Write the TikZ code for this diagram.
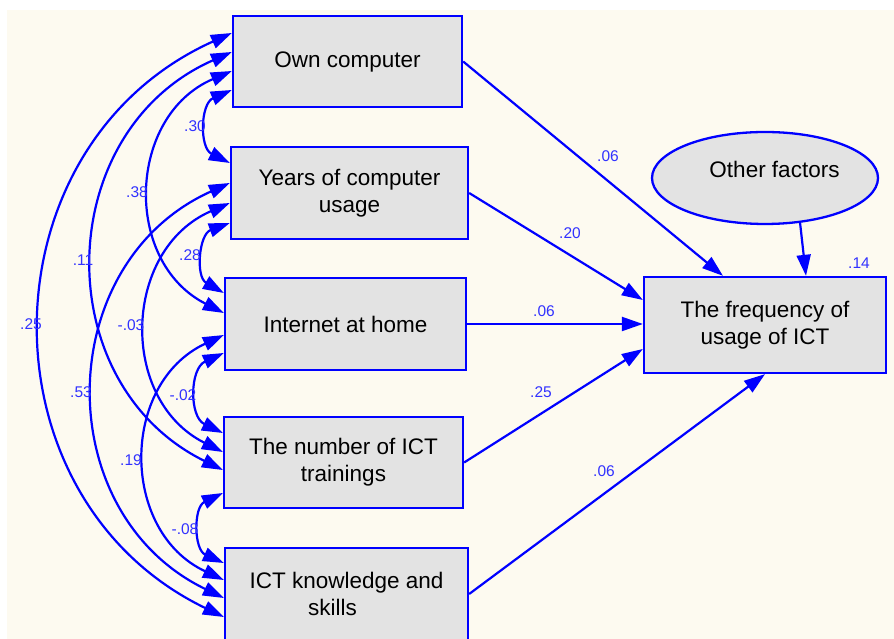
\documentclass[tikz,border=0pt]{standalone}
\usepackage{fontspec}
\setmainfont{Liberation Sans}
\usetikzlibrary{arrows.meta, positioning, calc, shapes.geometric}
\definecolor{amosblue}{RGB}{0, 0, 255}
\definecolor{coefblue}{RGB}{50, 50, 255}
\definecolor{boxgray}{RGB}{227, 227, 227}
\definecolor{papercream}{RGB}{253, 250, 240}

\tikzset{
  varbox/.style={draw=amosblue, fill=boxgray, line width=2.3pt, align=center, inner sep=0pt,
    font=\fontsize{22.5}{27}\selectfont},
  coef/.style={text=coefblue, font=\fontsize{15.5}{18}\selectfont, inner sep=0pt},
  effect/.style={draw=amosblue, line width=2.2pt, -{Triangle[length=21pt, width=14pt]}},
  cov/.style={draw=amosblue, line width=2.2pt,
    {Triangle[length=21pt, width=14pt]}-{Triangle[length=21pt, width=14pt]},
    bend right=65, looseness=1.2}
}

\begin{document}
\begin{tikzpicture}[x=1pt, y=1pt]
  \useasboundingbox (0,0) rectangle (894,639);
  \fill[white] (0,0) rectangle (894,639);
  \fill[papercream] (7,0) rectangle (894,629);

  % observed predictors
  \node[varbox, minimum width=229pt, minimum height=91pt] (own) at (347.5,577.5) {Own computer};
  \node[varbox, minimum width=237pt, minimum height=92pt] (years) at (349.5,446) {Years of computer\\usage};
  \node[varbox, minimum width=241pt, minimum height=92pt] (inet) at (345.5,315) {Internet at home};
  \node[varbox, minimum width=239pt, minimum height=91pt] (train) at (343.5,176.5) {The number of ICT\\trainings};
  \node[varbox, minimum width=243pt, minimum height=92pt] (know) at (346.5,45) {ICT knowledge and\\skills\hspace*{28pt}};

  % outcome and residual
  \node[varbox, minimum width=242pt, minimum height=96pt] (freq) at (765,314) {The frequency of\\usage of ICT};
  \node[varbox, ellipse, minimum width=226pt, minimum height=92pt, text depth=17.5pt] (other) at (765,461) {Other factors\hspace*{-19pt}};

  % regression paths
  \draw[effect] (own.east) -- ([xshift=-42pt]freq.north);
  \draw[effect] (years.east) -- ([yshift=25pt]freq.west);
  \draw[effect] (inet.east) -- (inet.east -| freq.west);
  \draw[effect] (train.east) -- ([yshift=-24pt]freq.west);
  \draw[effect] (know.east) -- (freq.south);
  \draw[effect] (other.308) -- ([xshift=41pt]freq.north);

  % covariances
  \draw[cov] ([yshift=-28.5pt]own.west) to ([yshift=30pt]years.west);
  \draw[cov] ([yshift=-9.5pt]own.west) to ([yshift=11pt]inet.west);
  \draw[cov] ([yshift=9.5pt]own.west) to ([yshift=-7.5pt]train.west);
  \draw[cov] ([yshift=28.5pt]own.west) to ([yshift=-23pt]know.west);
  \draw[cov] ([yshift=-30pt]years.west) to ([yshift=31pt]inet.west);
  \draw[cov] ([yshift=-10pt]years.west) to ([yshift=10.5pt]train.west);
  \draw[cov] ([yshift=10pt]years.west) to ([yshift=-4pt]know.west);
  \draw[cov] ([yshift=-29pt]inet.west) to ([yshift=29.5pt]train.west);
  \draw[cov] ([yshift=-11pt]inet.west) to ([yshift=14pt]know.west);
  \draw[cov] ([yshift=-30.5pt]train.west) to ([yshift=31pt]know.west);

  % path coefficients
  \node[coef] (b-own) at (608,483) {.06};
  \node[coef] (b-years) at (570,406) {.20};
  \node[coef] (b-inet) at (544,328) {.06};
  \node[coef] (b-train) at (541,247) {.25};
  \node[coef] (b-know) at (604,168) {.06};
  \node[coef] (r2-freq) at (859,376) {.14};

  % correlations
  \node[coef] (r-own-years) at (195,513) {.30};
  \node[coef] (r-own-inet) at (137,447) {.38};
  \node[coef] (r-years-inet) at (190,384) {.28};
  \node[coef] (r-own-train) at (83,379) {.11};
  \node[coef] (r-own-know) at (31,315) {.25};
  \node[coef] (r-years-train) at (131,314) {-.03};
  \node[coef] (r-inet-train) at (183,244) {-.02};
  \node[coef] (r-years-know) at (81,247) {.53};
  \node[coef] (r-inet-know) at (131,179) {.19};
  \node[coef] (r-train-know) at (185,110) {-.08};
\end{tikzpicture}
\end{document}
